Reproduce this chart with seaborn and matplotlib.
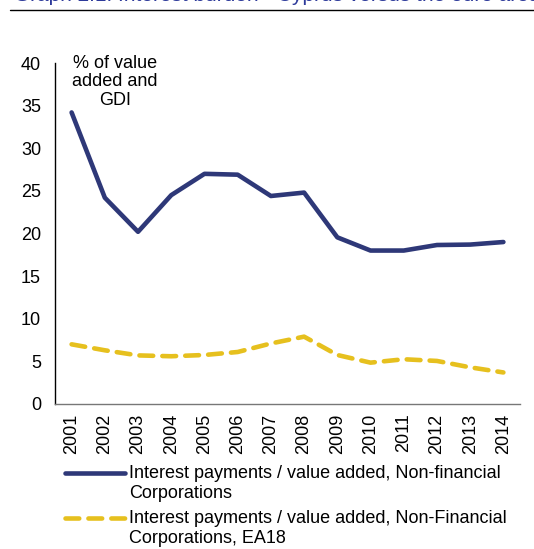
import matplotlib
matplotlib.use("Agg")
import matplotlib.pyplot as plt
import seaborn as sns
import pandas as pd
from matplotlib.lines import Line2D

years = ["2001", "2002", "2003", "2004", "2005", "2006", "2007",
         "2008", "2009", "2010", "2011", "2012", "2013", "2014"]
cyprus = [34.2, 24.2, 20.2, 24.5, 27.0, 26.9, 24.4, 24.8, 19.55, 18.0, 18.0, 18.65, 18.7, 19.0]
ea18 = [7.0, 6.3, 5.7, 5.6, 5.75, 6.1, 7.1, 7.9, 5.75, 4.85, 5.25, 5.05, 4.3, 3.7]
label_cy = "Interest payments / value added, Non-financial\nCorporations"
label_ea = "Interest payments / value added, Non-Financial\nCorporations, EA18"
yticks = [0, 5, 10, 15, 20, 25, 30, 35, 40]

sns.set_theme(style="white")
plt.rcParams['font.family'] = ['Liberation Sans', 'DejaVu Sans']

df = pd.DataFrame({
    "year": years * 2,
    "value": cyprus + ea18,
    "series": [label_cy] * len(years) + [label_ea] * len(years),
})

W, H = 534, 549
fig = plt.figure(figsize=(W / 100, H / 100), dpi=100)
ax = fig.add_axes([55/W, 1 - 404/H, (520-55)/W, (404-63)/H])

blue = "#2e3878"
yellow = "#e6c01e"
fs = 13
dash = [3.0, 2.0]
sns.lineplot(data=df[df.series == label_cy], x="year", y="value", ax=ax,
             color=blue, linewidth=3.3, sort=False, legend=False)
sns.lineplot(data=df[df.series == label_ea], x="year", y="value", ax=ax,
             color=yellow, linewidth=3.3, sort=False, legend=False)
ax.lines[1].set_dashes(dash)
ax.lines[1].set_dash_capstyle("round")

ax.set_xlim(-0.5, len(years) - 0.5)
ax.set_ylim(0, 40)
ax.set_yticks(yticks)
ax.set_yticklabels([str(t) for t in yticks], fontsize=fs, color="black")
ax.set_xticks(range(len(years)))
ax.set_xticklabels(years, rotation=90, fontsize=fs, color="black")
ax.tick_params(axis="y", length=0, pad=10)
ax.tick_params(axis="x", length=0, pad=7)
ax.set_xlabel("")
ax.set_ylabel("")
for s in ["top", "right"]:
    ax.spines[s].set_visible(False)
ax.spines["left"].set_color("black")
ax.spines["left"].set_linewidth(1.0)
ax.spines["bottom"].set_color("#777777")
ax.spines["bottom"].set_linewidth(1.0)

ax.text(1.3, 37.8, "% of value\nadded and\nGDI", ha="center", va="center",
        fontsize=fs, color="black", linespacing=1.1)

# legend (handles aligned with the first text line, as in the reference)
def fx(px):
    return px / W

def fy(py):
    return 1 - py / H

entries = [(blue, None, label_cy, 473), (yellow, dash, label_ea, 518)]
for color, dashes, label, yline in entries:
    kw = dict(color=color, linewidth=3.3, transform=fig.transFigure)
    if dashes:
        kw.update(dashes=dashes, dash_capstyle="round")
    fig.add_artist(Line2D([fx(65), fx(125)], [fy(yline), fy(yline)], **kw))
    fig.text(fx(129), fy(yline + 10.5), label, ha="left", va="center",
             fontsize=fs, color="black", linespacing=1.17)

fig.text(fx(14), fy(5), "Graph 2.1: Interest burden - Cyprus versus the euro area",
         ha="left", va="bottom", fontsize=15, color="#2d3a9a")
fig.add_artist(Line2D([fx(10), 1.0], [fy(10), fy(10)], color="black",
                      linewidth=1.0, transform=fig.transFigure))

fig.savefig("out.png", dpi=100)
